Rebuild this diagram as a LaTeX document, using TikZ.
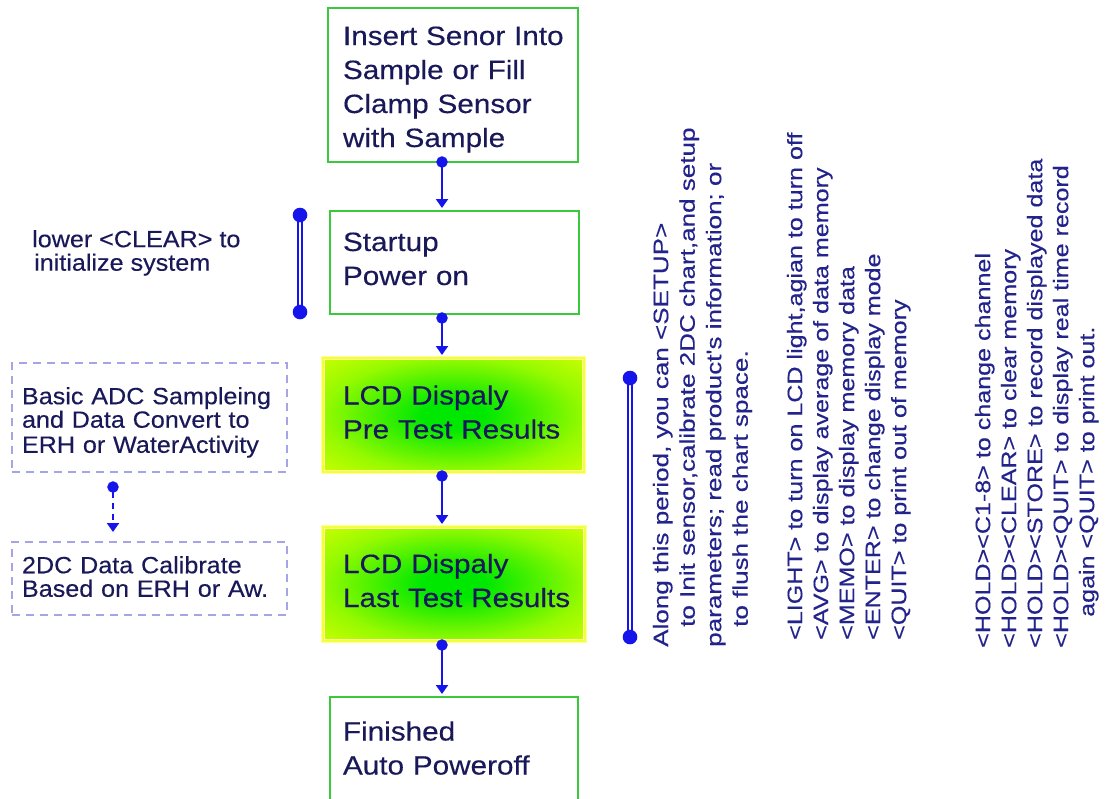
\documentclass[tikz,border=0pt]{standalone}
\usepackage{fontspec}
\setmainfont{Liberation Sans}
\newfontfamily\boxfam[FakeStretch=1.12,FakeBold=0.3]{Liberation Sans}
\newfontfamily\sidefam[FakeStretch=1.07,FakeBold=0.3]{Liberation Sans}
\newfontfamily\rotfam[FakeStretch=1.24,FakeBold=0.3]{Liberation Sans}
\newfontfamily\rotfamb[FakeStretch=1.195,FakeBold=0.3]{Liberation Sans}
\usetikzlibrary{arrows.meta}
\definecolor{boxgreen}{RGB}{60,200,60}
\definecolor{navy}{RGB}{25,25,90}
\definecolor{rotblue}{RGB}{35,35,140}
\definecolor{connblue}{RGB}{20,20,235}
\definecolor{dashlav}{RGB}{165,165,230}
\definecolor{lcdgreen}{RGB}{0,232,0}
\definecolor{lcdmid}{RGB}{150,250,0}
\definecolor{lcdyellow}{RGB}{232,255,0}
\definecolor{lcdrim}{RGB}{255,255,150}
\pgfdeclareradialshading{lcdshade}{\pgfpoint{0bp}{0bp}}{color(0bp)=(lcdgreen); color(6bp)=(lcdgreen); color(25bp)=(lcdmid); color(42bp)=(lcdyellow); color(50bp)=(lcdyellow)}
\newcommand\firstl[2]{\mbox{\rule{0pt}{#1pt}#2}}
\newcommand\midl[1]{\mbox{\strut #1}}
\begin{document}
\begin{tikzpicture}[x=1pt,y=-1pt,
  boxtext/.style={font=\boxfam\fontsize{26.5pt}{34pt}\selectfont, text=navy},
  flowbox/.style={boxtext, draw=boxgreen, line width=2.4pt, fill=white, anchor=north west, align=left, inner ysep=0pt, outer sep=0pt},
  lcdbox/.style={boxtext, shading=lcdshade, draw=lcdrim, double=lcdyellow!60!lcdrim, double distance=1.2pt, line width=1pt, anchor=north west, align=left, inner ysep=0pt, outer sep=0pt},
  sidetext/.style={font=\sidefam\fontsize{23.5pt}{23.5pt}\selectfont, text=navy},
  dashbox/.style={sidetext, draw=dashlav, line width=1.8pt, dash pattern=on 8pt off 6pt, anchor=north west, align=left, inner ysep=0pt, outer sep=0pt},
  rottext/.style={font=\rotfam\fontsize{21pt}{26.5pt}\selectfont, text=rotblue, anchor=north west, align=left, inner sep=0pt, rotate=90},
  rottextb/.style={rottext, font=\rotfamb\fontsize{21pt}{26pt}\selectfont},
  conn/.style={draw=connblue, line width=2pt, {Circle[length=11.4pt,width=11.4pt]}-{Triangle[length=9pt,width=12pt]}, shorten <=-5.7pt},
  dconn/.style={conn, dash pattern=on 6pt off 5pt},
  bracket/.style={draw=connblue, line width=1.8pt, double=white, double distance=2.6pt},
  enddot/.style={fill=connblue}
]
\useasboundingbox (0,0) rectangle (1110,798);
\clip (0,0) rectangle (1110,798);
\fill[white] (0,0) rectangle (1110,798);

% main flow
\node[flowbox, inner xsep=15pt, text width=220pt, minimum width=250pt, minimum height=154pt] (b1) at (328,8)
  {\firstl{32.2}{Insert Senor Into}\\\midl{Sample or Fill}\\\midl{Clamp Sensor}\\\midl{with Sample}};
\node[flowbox, inner xsep=13pt, text width=223pt, minimum width=249pt, minimum height=103pt] (b2) at (330,211)
  {\firstl{21.2}{Startup}\\\midl{Power on}};
\node[lcdbox, inner xsep=20pt, text width=221pt, minimum width=261pt, minimum height=114pt] (b3) at (323,358)
  {\firstl{23.2}{LCD Dispaly}\\\midl{Pre Test Results}};
\node[lcdbox, inner xsep=20pt, text width=222pt, minimum width=262pt, minimum height=114pt] (b4) at (323,527)
  {\firstl{22.2}{LCD Dispaly}\\\midl{Last Test Results}};
\node[flowbox, inner xsep=13pt, text width=222pt, minimum width=248pt, minimum height=110pt] (b5) at (330,697)
  {\firstl{21.2}{Finished}\\\midl{Auto Poweroff}};

\coordinate (ax) at (442,0);
\draw[conn] (b1.south -| ax) -- ([yshift=3pt]b2.north -| ax);
\draw[conn] ([yshift=-4pt]b2.south -| ax) -- ([yshift=3pt]b3.north -| ax);
\draw[conn] ([yshift=-4pt]b3.south -| ax) -- ([yshift=3pt]b4.north -| ax);
\draw[conn] ([yshift=-4pt]b4.south -| ax) -- ([yshift=3pt]b5.north -| ax);

% left side
\node[sidetext, anchor=north west, align=left, inner sep=0pt] (clr) at (32,229)
  {\firstl{18}{lower <CLEAR> to}\\\hspace*{2pt}initialize system};
\coordinate (lt) at (300,215);
\coordinate (lb) at (300,312);
\draw[bracket] (lt) -- (lb);
\fill[enddot] (lt) circle (7.3);
\fill[enddot] (lb) circle (7.3);

\node[dashbox, inner xsep=10pt, text width=255pt, minimum width=275pt, minimum height=109pt] (dA) at (12,363)
  {\firstl{29.05}{Basic ADC Sampleing}\\\midl{and Data Convert to}\\\midl{ERH or WaterActivity}};
\node[dashbox, inner xsep=10pt, text width=255pt, minimum width=275pt, minimum height=73pt] (dB) at (12,542)
  {\firstl{20.05}{2DC Data Calibrate}\\\midl{Based on ERH or Aw.}};
\coordinate (dx) at (113,0);
\draw[dconn] ([yshift=-15pt]dA.south -| dx) -- ([yshift=10pt]dB.north -| dx);

% right side
\coordinate (rt) at (630,378);
\coordinate (rb) at (630,637);
\draw[bracket] (rt) -- (rb);
\fill[enddot] (rt) circle (7.3);
\fill[enddot] (rb) circle (7.3);

\node[rottext] (g1) at (652,647)
  {\firstl{16}{Along this period, you can <SETUP>}\\\hspace*{20pt}to Init sensor,calibrate 2DC chart,and setup\\parameters; read product's information; or\\\hspace*{20pt}to flush the chart space.};
\node[rottextb] (g2) at (786,640)
  {\firstl{16}{<LIGHT> to turn on LCD light,agian to turn off}\\<AVG> to display average of data memory\\<MEMO> to display memory data\\<ENTER> to change display mode\\<QUIT> to print out of memory};
\node[rottextb] (g3) at (974,648)
  {\firstl{16}{<HOLD><C1-8> to change channel}\\<HOLD><CLEAR> to clear memory\\<HOLD><STORE> to record displayed data\\<HOLD><QUIT> to display real time record\\\hspace*{31pt}again <QUIT> to print out.};
\end{tikzpicture}
\end{document}
